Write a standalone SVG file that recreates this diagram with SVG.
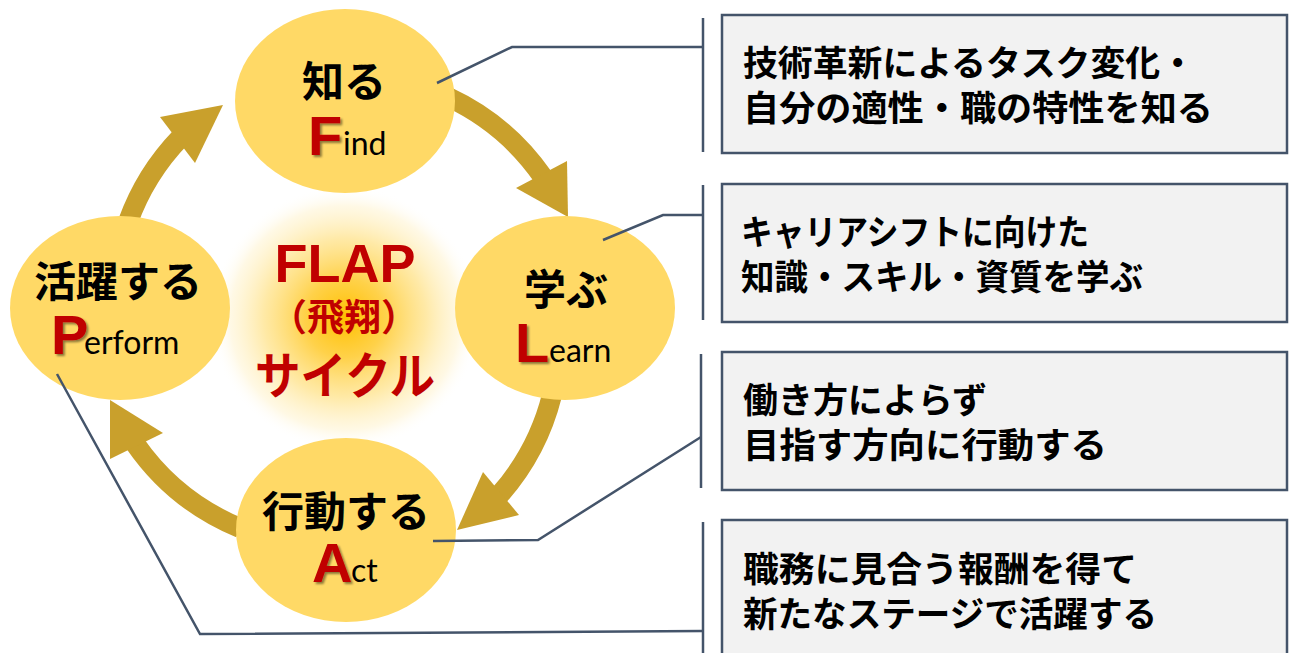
<svg xmlns="http://www.w3.org/2000/svg" width="1290" height="653" viewBox="0 0 1290 653">
<defs>
<radialGradient id="glow" cx="0.5" cy="0.5" r="0.5">
<stop offset="0" stop-color="#FFC000" stop-opacity="1"/>
<stop offset="0.3" stop-color="#FFCF40" stop-opacity="0.95"/>
<stop offset="0.6" stop-color="#FFE080" stop-opacity="0.7"/>
<stop offset="0.85" stop-color="#FFEFBE" stop-opacity="0.4"/>
<stop offset="1" stop-color="#FFFFFF" stop-opacity="0"/>
</radialGradient>
<filter id="sh" x="-20%" y="-20%" width="150%" height="150%">
<feDropShadow dx="2" dy="2" stdDeviation="1.2" flood-color="#000" flood-opacity="0.45"/>
</filter>
<style>
.node{fill:#FFD966}
.jp{font-family:"Noto Sans CJK JP","Noto Sans CJK SC",sans-serif;font-weight:700;fill:#000}
.cap{font-family:"Liberation Sans",Arial,sans-serif;font-weight:700;fill:#C00000;font-size:56px}
.low{font-family:Lato,"Liberation Sans",sans-serif;fill:#000;font-size:32px}
.red{fill:#C00000}
.arr{fill:none;stroke:#C9A02C;stroke-width:20}
.head{fill:#C9A02C}
.lead{fill:none;stroke:#44546A;stroke-width:2.5}
.box{fill:#F2F2F2;stroke:#44546A;stroke-width:2.5}
.bt{font-family:"Noto Sans CJK JP","Noto Sans CJK SC",sans-serif;font-weight:700;fill:#000;font-size:35px}
</style>
</defs>
<rect width="1290" height="653" fill="#FFFFFF"/>
<g id="center-glow">
<ellipse cx="345" cy="318" rx="135" ry="132" fill="url(#glow)"/>
<text class="jp red" x="345" y="282" text-anchor="middle" style="font-family:'Liberation Sans',Arial,sans-serif;font-size:54px">FLAP</text>
<text class="jp red" x="344" y="331" text-anchor="middle" font-size="37">（飛翔）</text>
<text class="jp red" x="345" y="394" text-anchor="middle" font-size="50" textLength="180" lengthAdjust="spacingAndGlyphs">サイクル</text>
</g>
<g id="cycle-arrows">
<path class="arr" d="M 128 222 A 238 238 0 0 1 180.5 137.5"/>
<polygon class="head" points="223,105 160,117 195,163"/>
<path class="arr" d="M 448 97 A 238 238 0 0 1 543 177"/>
<polygon class="head" points="568,217 516,188 567,161"/>
<path class="arr" d="M 552 395 A 238 238 0 0 1 499 495.5"/>
<polygon class="head" points="457,530 483,472 519,515"/>
<path class="arr" d="M 240 528 A 238 238 0 0 1 135 443.5"/>
<polygon class="head" points="110,400 163,433 110,459"/>
</g>
<g id="node-find">
<ellipse class="node" cx="345" cy="101" rx="110" ry="92"/>
<text class="jp" x="344" y="97" text-anchor="middle" font-size="42">知る</text>
<text class="cap" x="308" y="155" filter="url(#sh)">F</text>
<text class="low" x="343" y="155">ind</text>
</g>
<g id="node-learn">
<ellipse class="node" cx="565" cy="308" rx="110" ry="92"/>
<text class="jp" x="566" y="305" text-anchor="middle" font-size="42">学ぶ</text>
<text class="cap" x="515" y="362" filter="url(#sh)">L</text>
<text class="low" x="549" y="362">earn</text>
</g>
<g id="node-act">
<ellipse class="node" cx="346" cy="530" rx="110" ry="92"/>
<text class="jp" x="346" y="527" text-anchor="middle" font-size="42">行動する</text>
<text class="cap" x="312" y="582" filter="url(#sh)">A</text>
<text class="low" x="351" y="582">ct</text>
</g>
<g id="node-perform">
<ellipse class="node" cx="120" cy="308" rx="110" ry="92"/>
<text class="jp" x="118" y="297" text-anchor="middle" font-size="42">活躍する</text>
<text class="cap" x="51" y="354" filter="url(#sh)">P</text>
<text class="low" x="84" y="354">erform</text>
</g>
<g id="leader-lines">
<path class="lead" d="M 437 83 L 512 47 L 703 47"/>
<path class="lead" d="M 703 18 L 703 152"/>
<path class="lead" d="M 603 240 L 663 215 L 703 215"/>
<path class="lead" d="M 703 185 L 703 320"/>
<path class="lead" d="M 433 541 L 538 540 L 701 437"/>
<path class="lead" d="M 701 354 L 701 488"/>
<path class="lead" d="M 57 374 L 200 634 L 703 631"/>
<path class="lead" d="M 703 522 L 703 653"/>
</g>
<g id="box-find">
<rect class="box" x="722" y="15" width="565" height="138"/>
<text class="bt" x="743" y="76" textLength="452" lengthAdjust="spacingAndGlyphs">技術革新によるタスク変化・</text>
<text class="bt" x="743" y="121" textLength="470" lengthAdjust="spacingAndGlyphs">自分の適性・職の特性を知る</text>
</g>
<g id="box-learn">
<rect class="box" x="722" y="184" width="565" height="138"/>
<text class="bt" x="741" y="245" textLength="348" lengthAdjust="spacingAndGlyphs">キャリアシフトに向けた</text>
<text class="bt" x="741" y="290" textLength="402" lengthAdjust="spacingAndGlyphs">知識・スキル・資質を学ぶ</text>
</g>
<g id="box-act">
<rect class="box" x="722" y="352" width="565" height="138"/>
<text class="bt" x="743" y="413" textLength="244" lengthAdjust="spacingAndGlyphs">働き方によらず</text>
<text class="bt" x="743" y="458" textLength="364" lengthAdjust="spacingAndGlyphs">目指す方向に行動する</text>
</g>
<g id="box-perform">
<rect class="box" x="722" y="520" width="565" height="150"/>
<text class="bt" x="743" y="582" textLength="394" lengthAdjust="spacingAndGlyphs">職務に見合う報酬を得て</text>
<text class="bt" x="743" y="627" textLength="414" lengthAdjust="spacingAndGlyphs">新たなステージで活躍する</text>
</g>
</svg>
